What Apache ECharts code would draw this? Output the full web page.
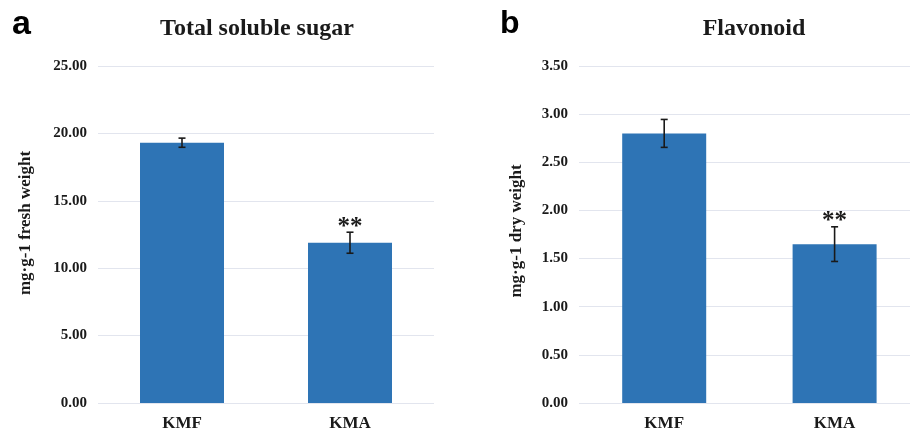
<!DOCTYPE html>
<html>
<head>
<meta charset="utf-8">
<script src="https://cdn.jsdelivr.net/npm/echarts@6/dist/echarts.min.js"></script>
<style>
html,body{margin:0;padding:0;background:#fff;}
#c{width:910px;height:435px;}
</style>
</head>
<body>
<div id="c"></div>
<script>
var categories = ['KMF', 'KMA'];
var sugarMean = [19.31, 11.89];
var sugarErr = [0.34, 0.78];
var flavMean = [2.80, 1.65];
var flavErr = [0.145, 0.18];
var significance = ['', '**'];
var sugarTicks = { min: 0, max: 25, interval: 5 };
var flavTicks = { min: 0, max: 3.5, interval: 0.5 };

var SERIF = '"Liberation Serif", "Times New Roman", serif';
var BAR = '#2E74B5';
var GRIDC = '#E2E5EE';

// right panel is cut by the page edge: category slots are 170.4px wide, plot shows 331px
var RIGHT_SLOT = 170.4, RIGHT_PLOT_W = 331;

function errData(mean, err) {
  return mean.map(function (m, i) { return [i, m - err[i], m + err[i], significance[i]]; });
}
function pairs(mean) {
  return mean.map(function (m, i) { return [i, m]; });
}

function renderErr(params, api) {
  var x = api.value(0);
  var lo = api.coord([x, api.value(1)]);
  var hi = api.coord([x, api.value(2)]);
  var cap = 3.5;
  var st = { stroke: '#1a1a1a', lineWidth: 1.6 };
  var children = [
    { type: 'line', shape: { x1: hi[0], y1: hi[1], x2: lo[0], y2: lo[1] }, style: st },
    { type: 'line', shape: { x1: hi[0] - cap, y1: hi[1], x2: hi[0] + cap, y2: hi[1] }, style: st },
    { type: 'line', shape: { x1: lo[0] - cap, y1: lo[1], x2: lo[0] + cap, y2: lo[1] }, style: st }
  ];
  var s = significance[params.dataIndex];
  if (s) {
    children.push({
      type: 'text',
      style: {
        text: s, x: hi[0], y: hi[1] - 5,
        textAlign: 'center', textVerticalAlign: 'middle',
        font: 'bold 25px ' + SERIF, fill: '#1a1a1a'
      }
    });
  }
  return { type: 'group', children: children };
}

function yAx(idx, t) {
  return {
    type: 'value', gridIndex: idx, min: t.min, max: t.max, interval: t.interval,
    axisLine: { show: false }, axisTick: { show: false },
    axisLabel: {
      margin: 11, fontFamily: SERIF, fontWeight: 'bold', fontSize: 15, color: '#1a1a1a',
      formatter: function (v) { return v.toFixed(2); }
    },
    splitLine: { lineStyle: { color: GRIDC, width: 1.2 } }
  };
}
var xLabel = { margin: 12, fontFamily: SERIF, fontWeight: 'bold', fontSize: 17, color: '#1a1a1a' };

var chart = echarts.init(document.getElementById('c'));
chart.setOption({
  animation: false,
  backgroundColor: '#fff',
  title: [
    { text: 'Total soluble sugar', left: 252, top: 12, textAlign: 'center',
      textStyle: { fontFamily: SERIF, fontWeight: 'bold', fontSize: 24, color: '#1a1a1a' } },
    { text: 'Flavonoid', left: 749, top: 12, textAlign: 'center',
      textStyle: { fontFamily: SERIF, fontWeight: 'bold', fontSize: 24, color: '#1a1a1a' } }
  ],
  grid: [
    { left: 98, top: 66, width: 336, height: 337 },
    { left: 579, top: 66, width: RIGHT_PLOT_W, height: 337 }
  ],
  xAxis: [
    { type: 'category', gridIndex: 0, data: categories,
      axisLine: { show: false }, axisTick: { show: false }, axisLabel: xLabel },
    { type: 'value', gridIndex: 1, min: -0.5, max: -0.5 + RIGHT_PLOT_W / RIGHT_SLOT,
      axisLine: { show: false }, axisTick: { show: false }, splitLine: { show: false },
      axisLabel: Object.assign({}, xLabel, {
        customValues: categories.map(function (c, i) { return i; }),
        formatter: function (v) { return categories[Math.round(v)]; }
      }) }
  ],
  yAxis: [yAx(0, sugarTicks), yAx(1, flavTicks)],
  graphic: [
    { type: 'text', left: 12, top: 8, style: { text: 'a', font: 'bold 34px "Liberation Sans", Arial, sans-serif', fill: '#000' } },
    { type: 'text', left: 500, top: 8, style: { text: 'b', font: 'bold 32px "Liberation Sans", Arial, sans-serif', fill: '#000' } },
    { type: 'text', x: 26, y: 223, rotation: Math.PI / 2,
      style: { text: 'mg·g-1 fresh weight', textAlign: 'center', textVerticalAlign: 'middle',
        font: 'bold 17px ' + SERIF, fill: '#1a1a1a' } },
    { type: 'text', x: 517, y: 231, rotation: Math.PI / 2,
      style: { text: 'mg·g-1 dry weight', textAlign: 'center', textVerticalAlign: 'middle',
        font: 'bold 17px ' + SERIF, fill: '#1a1a1a' } }
  ],
  series: [
    { type: 'bar', xAxisIndex: 0, yAxisIndex: 0, data: sugarMean, barWidth: '50%', itemStyle: { color: BAR } },
    { type: 'custom', xAxisIndex: 0, yAxisIndex: 0, data: errData(sugarMean, sugarErr), renderItem: renderErr, z: 5 },
    { type: 'bar', xAxisIndex: 1, yAxisIndex: 1, data: pairs(flavMean), barWidth: 84, itemStyle: { color: BAR } },
    { type: 'custom', xAxisIndex: 1, yAxisIndex: 1, data: errData(flavMean, flavErr), renderItem: renderErr, z: 5 }
  ]
});
</script>
</body>
</html>
